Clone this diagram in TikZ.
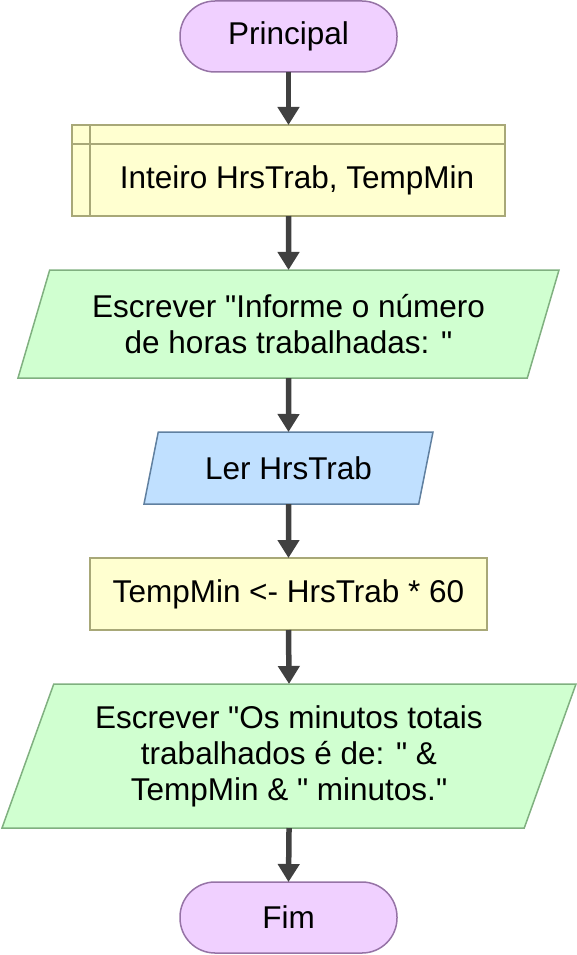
\documentclass[tikz,border=0pt]{standalone}
\usepackage{fontspec}
\setmainfont{Liberation Sans}[Ligatures=TeXOff]
\usepackage{xcolor}
\usetikzlibrary{arrows.meta,positioning,shapes.geometric}
\definecolor{termfill}{RGB}{240,208,255}
\definecolor{termline}{RGB}{150,115,166}
\definecolor{declfill}{RGB}{255,255,208}
\definecolor{declline}{RGB}{168,168,120}
\definecolor{writefill}{RGB}{208,255,208}
\definecolor{writeline}{RGB}{128,176,128}
\definecolor{readfill}{RGB}{192,224,255}
\definecolor{readline}{RGB}{96,128,160}
\definecolor{flowgray}{RGB}{64,64,64}
\tikzset{
	every node/.append style={font=\fontsize{31.5}{36}\selectfont, outer sep=0pt},
	terminal/.style = {
			draw=termline, fill=termfill, line width=1.5pt,
			rounded corners=35pt,
			minimum width=217pt, minimum height=71pt,
		},
	declbox/.style = {
			draw=declline, fill=declfill, line width=1.5pt,
			minimum width=433pt, minimum height=91pt,
		},
	procbox/.style = {
			draw=declline, fill=declfill, line width=1.5pt,
			minimum width=397pt, minimum height=72pt,
		},
	iobox/.style = {
			trapezium, trapezium left angle=64.4, trapezium right angle=115.6,
			trapezium stretches body, line width=1.5pt, align=center,
		},
	writebox/.style = {iobox, draw=writeline, fill=writefill},
	readbox/.style = {iobox, draw=readline, fill=readfill},
	flow/.style = {draw=flowgray, line width=5.5pt, -{Triangle[length=18pt,width=21pt]}},
}

\begin{document}
\begin{tikzpicture}[x=1pt,y=-1pt]
	\useasboundingbox (0,0) rectangle (577,955);
	\node[terminal] at (288.5,36.5) (start) {Principal};
	\node[declbox] at (288.5,170.5) (decl) {};
	\draw[declline, line width=1.5pt] ([xshift=18pt]decl.north west) -- ([xshift=18pt]decl.south west);
	\draw[declline, line width=1.5pt] ([yshift=-19pt]decl.north west) -- ([yshift=-19pt]decl.north east);
	\node at (297,180) (decltext) {Inteiro HrsTrab, TempMin};
	\node[writebox, minimum width=541pt, minimum height=108pt] at (288.5,324) (ask) {Escrever "Informe o número\\ de horas trabalhadas: "};
	\node[readbox, minimum width=289pt, minimum height=72pt] at (288.5,468) (read) {Ler HrsTrab};
	\node[procbox] at (288.5,594) (calc) {TempMin <- HrsTrab * 60};
	\node[writebox, minimum width=574pt, minimum height=144pt] at (289,756) (show) {Escrever "Os minutos totais\\ trabalhados é de: " \&\\ TempMin \& " minutos."};
	\node[terminal] at (288.5,917.5) (stop) {Fim};
	% connectors
	\draw[flow] (start.south) -- (decl.north);
	\draw[flow] (decl.south) -- (ask.north);
	\draw[flow] (ask.south) -- (read.north);
	\draw[flow] (read.south) -- (calc.north);
	\draw[flow] (calc.south) -- (show.north);
	\draw[flow] (show.south) -- (stop.north);
\end{tikzpicture}
\end{document}
